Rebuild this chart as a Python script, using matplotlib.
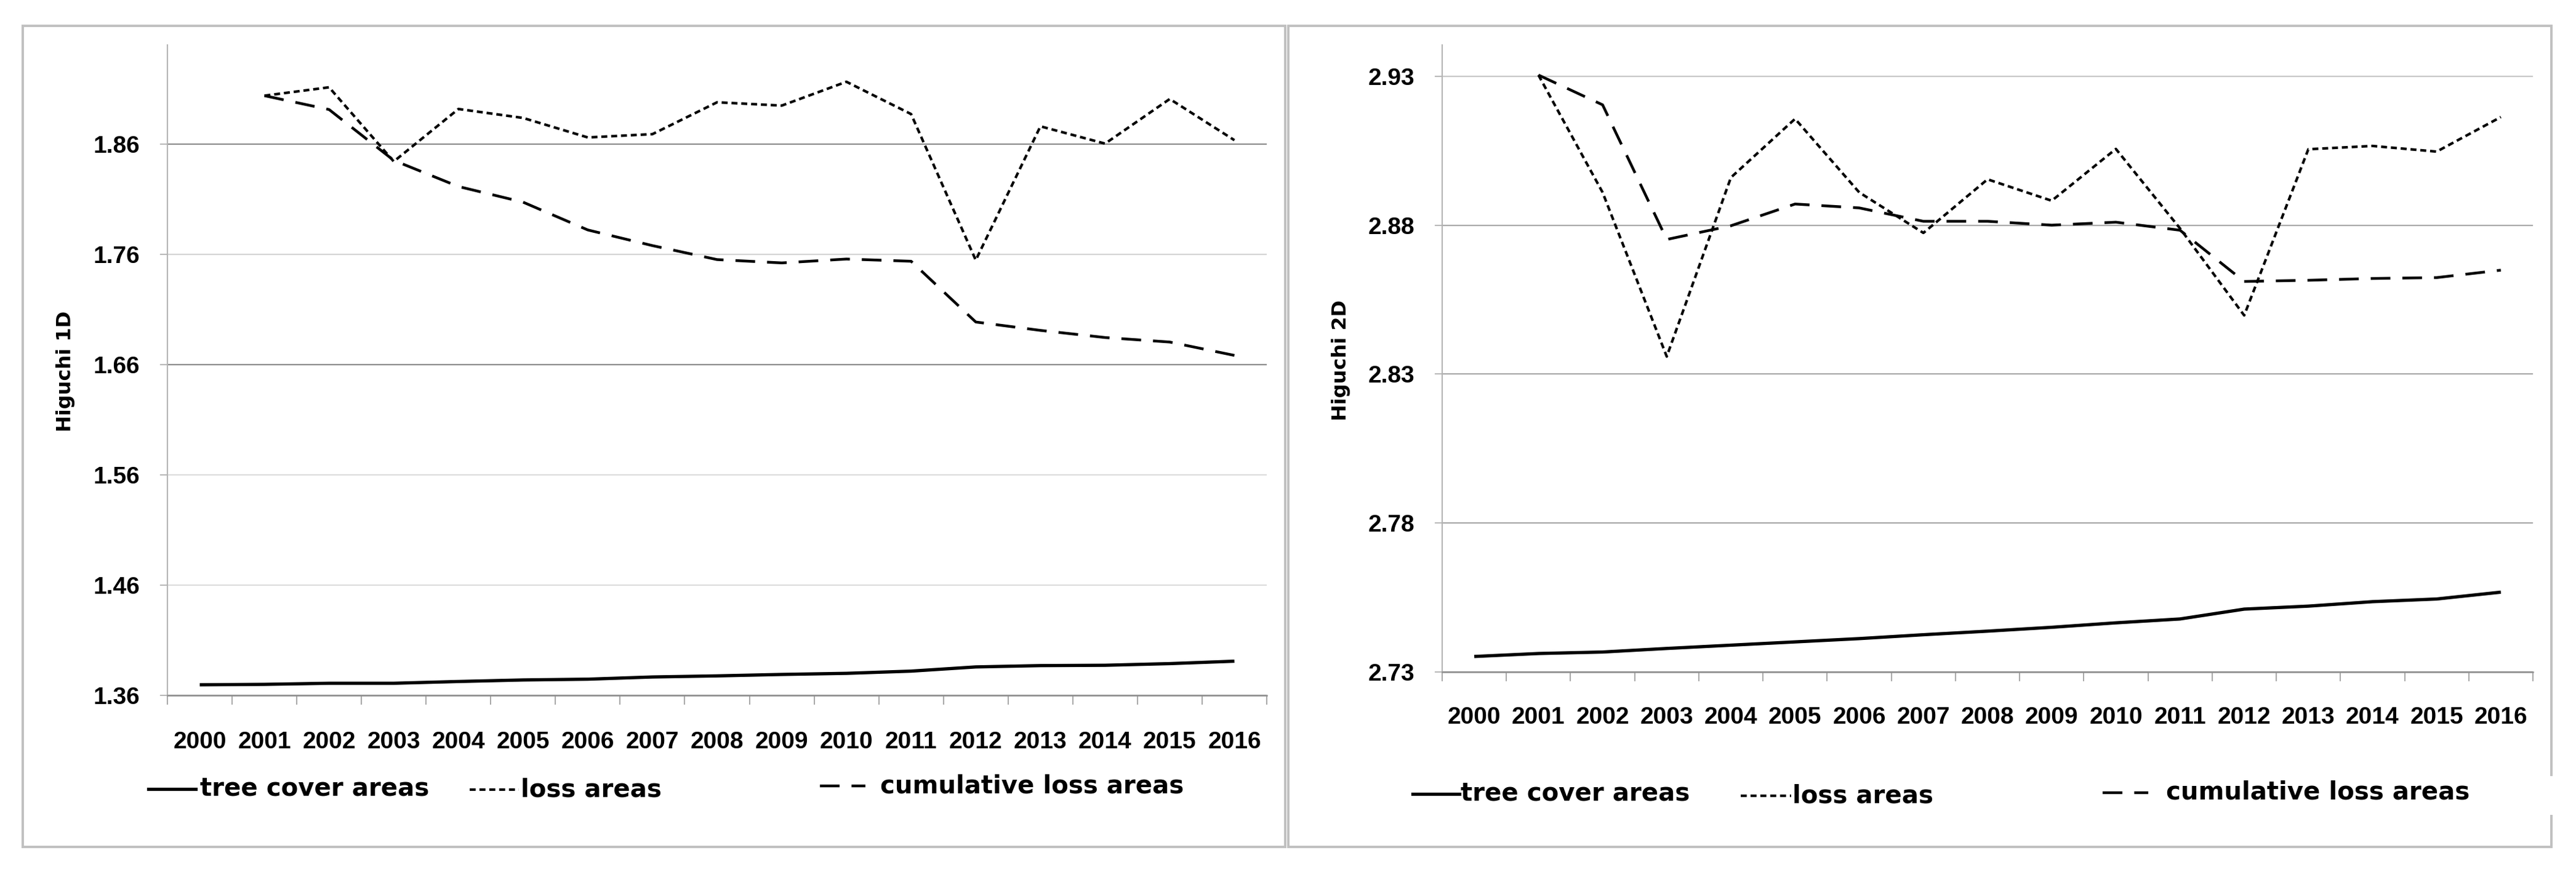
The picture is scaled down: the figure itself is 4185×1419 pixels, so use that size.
import numpy as np
import matplotlib
matplotlib.use('Agg')
import matplotlib.pyplot as plt
from matplotlib.lines import Line2D
from matplotlib.patches import Rectangle
from matplotlib.ticker import FormatStrFormatter

plt.rcParams['font.family'] = ['Liberation Sans', 'DejaVu Sans']
plt.rcParams['lines.scale_dashes'] = False

# data
years = [str(y) for y in range(2000, 2017)]

tree_1d = [1.3696, 1.3700, 1.3710, 1.3710, 1.3726, 1.3740, 1.3747, 1.3767, 1.3777,
           1.3790, 1.3800, 1.3820, 1.3858, 1.3870, 1.3873, 1.3888, 1.3910]
loss_1d = [1.9040, 1.9116, 1.8443, 1.8919, 1.8838, 1.8661, 1.8691, 1.8980,
           1.8950, 1.9166, 1.8873, 1.7548, 1.8762, 1.8605, 1.9010, 1.8636]
cum_1d = [1.9040, 1.8914, 1.8453, 1.8216, 1.8074, 1.7822, 1.7680, 1.7553,
          1.7523, 1.7558, 1.7538, 1.6987, 1.6911, 1.6846, 1.6805, 1.6684]

tree_2d = [2.7352, 2.7362, 2.7367, 2.7379, 2.7390, 2.7401, 2.7412, 2.7425, 2.7437,
           2.7450, 2.7465, 2.7478, 2.7511, 2.7521, 2.7536, 2.7545, 2.7568]
loss_2d = [2.9304, 2.8910, 2.8359, 2.8960, 2.9157, 2.8910, 2.8774, 2.8954,
           2.8882, 2.9056, 2.8789, 2.8497, 2.9055, 2.9066, 2.9047, 2.9163]
cum_2d = [2.9304, 2.9204, 2.8752, 2.8798, 2.8871, 2.8858, 2.8813, 2.8813,
          2.8800, 2.8810, 2.8783, 2.8611, 2.8615, 2.8621, 2.8624, 2.8649]

labels = ['tree cover areas', 'loss areas', 'cumulative loss areas']

W, H = 4185, 1419
fig = plt.figure(figsize=(W / 100, H / 100), dpi=100)
fig.set_facecolor('white')

short_dash = (0, (7, 4.5))
long_dash = (0, (23, 14))
styles = ['-', short_dash, long_dash]
widths = [3.8, 3.0, 3.2]


def fx(px):
    return px / W


def fy(py):
    return 1 - py / H


def setup(ax, ylo, yhi, yticks, gridcols, ylabel, xpad, lab_xy):
    x = np.arange(17)
    ax.set_xlim(-0.5, 16.5)
    ax.set_ylim(ylo, yhi)
    ax.set_xticks(x)
    ax.set_xticklabels(years)
    ax.set_xticks(np.arange(-0.5, 17, 1), minor=True)
    ax.tick_params(axis='x', which='major', length=0, pad=xpad,
                   labelsize=28)
    ax.tick_params(axis='x', which='minor', length=11, width=1.3,
                   color='#a0a0a0', direction='out')
    ax.set_yticks(yticks)
    ax.yaxis.set_major_formatter(FormatStrFormatter('%.2f'))
    ax.tick_params(axis='y', length=8.5, width=1.3, color='#b0b0b0',
                   pad=24, labelsize=28)
    for t in ax.get_xticklabels() + ax.get_yticklabels():
        t.set_fontweight('bold')
    for s in ['top', 'right']:
        ax.spines[s].set_visible(False)
    ax.spines['left'].set_color('#b4b4b4')
    ax.spines['left'].set_linewidth(1.5)
    ax.spines['bottom'].set_color('#909090')
    ax.spines['bottom'].set_linewidth(1.8)
    ax.grid(axis='y', linewidth=1.6)
    ax.set_axisbelow(True)
    for gl, c in zip(ax.get_ygridlines(), gridcols):
        gl.set_color(c)
    fig.text(fx(lab_xy[0]), fy(lab_xy[1]), ylabel, rotation=90,
             ha='center', va='center', fontsize=23, fontweight='bold',
             family='DejaVu Sans')


def draw(ax, tree, loss, cum):
    x = np.arange(17)
    ax.plot(x, tree, color='black', lw=widths[0], solid_capstyle='butt')
    ax.plot(x[1:], loss, color='black', lw=widths[1], linestyle=short_dash)
    ax.plot(x[1:], cum, color='black', lw=widths[2], linestyle=long_dash)


def legend(items):
    for (x0, x1, tx, base), lab, ls, lw in zip(items, labels, styles, widths):
        fig.add_artist(Line2D([fx(x0), fx(x1)], [fy(base - 11), fy(base - 11)],
                              transform=fig.transFigure, color='black',
                              lw=lw, linestyle=ls))
        fig.text(fx(tx), fy(base), lab, ha='left', va='baseline',
                 fontsize=29, fontweight='bold', family='DejaVu Sans')


# left panel
ax1 = fig.add_axes([fx(272), fy(1129), fx(2058 - 272), (1129 - 73) / H])
setup(ax1, 1.36, 1.95, np.arange(1.36, 1.87, 0.1),
      ['#909090', '#dcdcdc', '#dcdcdc', '#8c8c8c', '#d4d4d4', '#8c8c8c'],
      'Higuchi 1D', 42, (107, 603))
draw(ax1, tree_1d, loss_1d, cum_1d)
legend([(241, 318, 325, 1292), (763, 843, 846, 1293), (1332, 1406, 1430, 1287)])

# right panel
ax2 = fig.add_axes([fx(2343), fy(1091), fx(4115 - 2343), (1091 - 73) / H])
setup(ax2, 2.73, 2.9405, np.arange(2.73, 2.935, 0.05),
      ['#909090', '#a8a8a8', '#a8a8a8', '#a8a8a8', '#c8c8c8'],
      'Higuchi 2D', 40, (2178, 585))
draw(ax2, tree_2d, loss_2d, cum_2d)
legend([(2295, 2371, 2373, 1300), (2828, 2910, 2912, 1303), (3416, 3490, 3519, 1298)])

# chart borders
fig.add_artist(Rectangle((fx(37), fy(1375)), fx(2088 - 37), (1375 - 42) / H,
                         transform=fig.transFigure, fill=False,
                         ec='#c0c0c0', lw=2.8))
fig.add_artist(Rectangle((fx(2093), fy(1375)), fx(4145 - 2093), (1375 - 42) / H,
                         transform=fig.transFigure, fill=False,
                         ec='#c0c0c0', lw=2.8))
fig.add_artist(Rectangle((fx(4138), fy(1323)), fx(14), 63 / H,
                         transform=fig.transFigure, fc='white', ec='none'))

plt.savefig('out.png', dpi=100, facecolor='white')
